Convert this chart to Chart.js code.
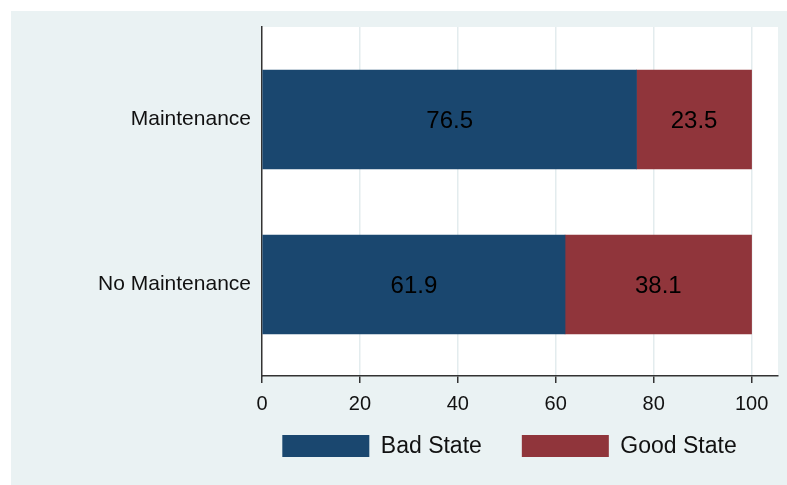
<!DOCTYPE html>
<html>
<head>
<meta charset="utf-8">
<script src="https://cdn.jsdelivr.net/npm/chart.js@4/dist/chart.umd.min.js"></script>
<style>
  html, body { margin: 0; padding: 0; background: #ffffff; }
  #frame { position: absolute; left: 11px; top: 11px; width: 776px; height: 474px; background: #EAF2F3; }
  #c { position: absolute; left: 0; top: 0; }
</style>
</head>
<body>
<div id="frame"></div>
<canvas id="c" width="787" height="485"></canvas>
<script>
// Share of units by condition, per maintenance group (percent)
const categories = ['Maintenance', 'No Maintenance'];
const categoryPos = [0, 1];
const badState = [76.5, 61.9];
const goodState = [23.5, 38.1];
const seriesNames = ['Bad State', 'Good State'];
const xTicks = [0, 20, 40, 60, 80, 100];

const FONT = "'Liberation Sans', Arial, sans-serif";
const NAVY = '#1A476F';
const MAROON = '#90353B';

// white plot region behind the bars
const plotBg = {
  id: 'plotBg',
  beforeDraw(chart) {
    const a = chart.chartArea;
    const ctx = chart.ctx;
    ctx.save();
    ctx.fillStyle = '#ffffff';
    ctx.fillRect(a.left, a.top, a.right - a.left, a.bottom - a.top);
    ctx.restore();
  }
};

// value written in the middle of each bar segment
const segLabels = {
  id: 'segLabels',
  afterDatasetsDraw(chart) {
    const ctx = chart.ctx;
    ctx.save();
    ctx.font = '24px ' + FONT;
    ctx.fillStyle = '#000000';
    ctx.textAlign = 'center';
    ctx.textBaseline = 'middle';
    chart.data.datasets.forEach((ds, di) => {
      const meta = chart.getDatasetMeta(di);
      meta.data.forEach((el, i) => {
        const p = el.getProps(['x', 'y', 'base'], true);
        ctx.fillText(ds.data[i].x.toFixed(1), (p.x + p.base) / 2, p.y + 2);
      });
    });
    ctx.restore();
  }
};

// key below the axis: colour swatch + series name, one row, centred under the plot
const keyRow = {
  id: 'keyRow',
  afterDraw(chart) {
    const ctx = chart.ctx;
    const a = chart.chartArea;
    const boxW = 87, boxH = 22, gap = 11.5, spacing = 40;
    ctx.save();
    ctx.font = '23px ' + FONT;
    const items = chart.data.datasets.map(ds => ({
      text: ds.label, color: ds.backgroundColor, w: boxW + gap + ctx.measureText(ds.label).width
    }));
    const total = items.reduce((s, it) => s + it.w, 0) + spacing * (items.length - 1);
    const centre = (a.left + a.right) / 2 - 10.5;
    const boxTop = a.bottom + 59;
    let x = centre - total / 2;
    ctx.textAlign = 'left';
    ctx.textBaseline = 'middle';
    items.forEach(it => {
      ctx.fillStyle = it.color;
      ctx.fillRect(x, boxTop, boxW, boxH);
      ctx.fillStyle = '#111111';
      ctx.fillText(it.text, x + boxW + gap, boxTop + boxH / 2 + 1);
      x += it.w + spacing;
    });
    ctx.restore();
  }
};

const toPoints = (vals) => vals.map((v, i) => ({ x: v, y: categoryPos[i] }));

new Chart(document.getElementById('c'), {
  type: 'bar',
  data: {
    datasets: [
      { label: seriesNames[0], data: toPoints(badState), backgroundColor: NAVY, borderWidth: 0, barThickness: 99 },
      { label: seriesNames[1], data: toPoints(goodState), backgroundColor: MAROON, borderWidth: 0, barThickness: 99 }
    ]
  },
  options: {
    indexAxis: 'y',
    responsive: false,
    animation: false,
    layout: { padding: { left: 20, right: 9, top: 27, bottom: 49 } },
    scales: {
      x: {
        type: 'linear',
        stacked: true,
        min: 0,
        max: 105.4,
        afterBuildTicks(scale) { scale.ticks = xTicks.map(v => ({ value: v })); },
        afterFit(scale) { scale.height = 60; },
        grid: {
          color: (c) => c.tick && c.tick.value === 0 ? 'rgba(0,0,0,0)' : '#E3ECEE',
          lineWidth: 1.5,
          tickColor: '#333333',
          tickLength: 7,
          drawTicks: true
        },
        border: { display: true, color: '#333333', width: 1.5 },
        ticks: {
          padding: 9,
          color: '#111111',
          font: { family: FONT, size: 20 },
          maxRotation: 0,
          autoSkip: false
        }
      },
      y: {
        type: 'linear',
        stacked: true,
        reverse: true,
        offset: false,
        min: -0.5606,
        max: 1.5545,
        afterBuildTicks(scale) { scale.ticks = categoryPos.map(v => ({ value: v })); },
        afterFit(scale) { scale.width = 242; },
        grid: { display: false, drawTicks: false, offset: false },
        border: { display: true, color: '#333333', width: 1.5 },
        ticks: {
          padding: 11,
          color: '#111111',
          font: { family: FONT, size: 21 },
          autoSkip: false,
          callback: (v) => categories[categoryPos.indexOf(v)] ?? ''
        }
      }
    },
    plugins: {
      legend: { display: false },
      tooltip: { enabled: false }
    }
  },
  plugins: [plotBg, segLabels, keyRow]
});
</script>
</body>
</html>
